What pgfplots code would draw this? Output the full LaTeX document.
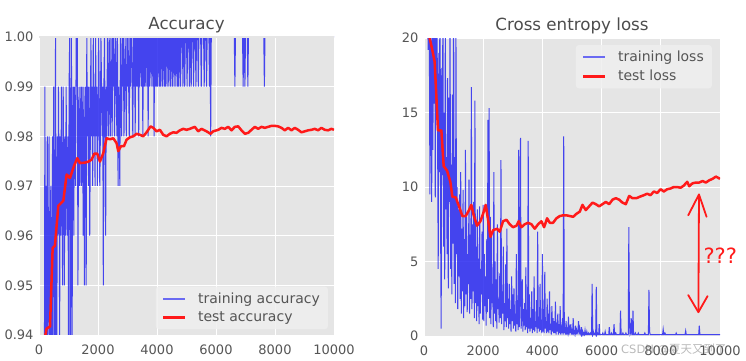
\documentclass[border=0pt]{standalone}
\usepackage{pgfplots}
\pgfplotsset{compat=1.18}
\usepackage{fontspec}
\setmainfont{DejaVu Sans}
\newfontfamily\cjk{Noto Sans CJK SC}
\definecolor{bg}{HTML}{E5E5E5}
\definecolor{tk}{HTML}{555555}
\definecolor{trblue}{HTML}{2828F0}
\definecolor{legblue}{HTML}{6A6AF2}
\definecolor{legbg}{HTML}{EFEFEF}
\definecolor{tred}{HTML}{FF1A1A}

\pgfplotsset{
 myax/.style={
  scale only axis,
  axis background/.style={fill=bg},
  axis line style={draw=none},
  major tick length=0pt,
  grid=major,
  major grid style={white, line width=0.9pt},
  tick label style={font=\fontsize{13}{13}\selectfont, color=tk},
  xticklabel style={yshift=-6pt},
  yticklabel style={xshift=-2pt},
  /pgf/number format/assume math mode=true,
  /pgf/number format/1000 sep={},
  xmin=0, xmax=10000,
  xtick={0,2000,4000,6000,8000,10000},
  scaled ticks=false,
  title style={font=\fontsize{16.7}{16.7}\selectfont, color=tk!90!black, at={(0.5,1)}, anchor=base, yshift=1.5pt},
  legend style={fill=legbg, fill opacity=0.85, text opacity=1, draw=none, rounded corners=3pt,
    font=\fontsize{14}{14}\selectfont, text=tk, row sep=3pt, inner xsep=6pt, inner ysep=4pt},
  legend cell align=left,
  clip mode=individual,
 },
 trainleg/.style={legend image code/.code={\path[draw=none, fill=none] (0pt,-1pt) rectangle (33pt,1pt); \draw[draw=legblue, line width=1.7pt, draw opacity=1] (0pt,0pt) -- (22pt,0pt);}},
 testleg/.style={legend image code/.code={\path[draw=none, fill=none] (0pt,-1pt) rectangle (33pt,1pt); \draw[draw=tred, line width=2.5pt] (0pt,0pt) -- (22pt,0pt);}},
}

\begin{document}
\begin{tikzpicture}
\useasboundingbox (0pt,0pt) rectangle (746pt,360pt);

% ---------------- Accuracy ----------------
\begin{axis}[myax,
  at={(39pt,25pt)}, anchor=south west, width=295pt, height=298pt,
  title={Accuracy},
  ymin=0.94, ymax=1.00,
  ytick={0.94,0.95,0.96,0.97,0.98,0.99,1.00},
  yticklabel style={/pgf/number format/.cd, fixed, fixed zerofill, precision=2},
  legend style={at={(0.98,0.019)}, anchor=south east},
]
\addplot[trblue, opacity=0.85, line width=1pt, trainleg] table[header=false, row sep=\\, x expr=\coordindex*20, y expr=\thisrowno{0}/100] {
10\\55\\72\\80\\84\\87\\89\\88\\91\\92\\
99\\93\\97\\92\\98\\94\\95\\98\\93\\96\\
97\\91\\95\\98\\94\\99\\96\\93\\100\\95\\
92\\98\\96\\99\\97\\94\\98\\96\\99\\97\\
95\\99\\97\\95\\98\\96\\99\\97\\96\\98\\
94\\99\\100\\93\\97\\100\\93\\98\\99\\96\\
99\\98\\97\\100\\99\\100\\95\\98\\99\\97\\
98\\99\\97\\99\\98\\96\\99\\95\\98\\99\\
95\\100\\98\\99\\97\\99\\96\\98\\100\\98\\
99\\97\\100\\98\\99\\97\\100\\98\\99\\97\\
98\\100\\99\\97\\98\\100\\99\\98\\99\\95\\
99\\100\\98\\96\\99\\98\\100\\99\\98\\100\\
99\\98\\100\\99\\98\\100\\99\\100\\98\\99\\
100\\99\\98\\100\\97\\99\\98\\97\\100\\99\\
98\\100\\99\\100\\98\\99\\100\\99\\98\\100\\
99\\100\\99\\98\\100\\99\\100\\100\\99\\98\\
100\\99\\100\\98\\100\\99\\100\\99\\100\\98\\
100\\99\\100\\100\\99\\100\\98\\100\\99\\100\\
99\\100\\100\\99\\100\\98\\100\\99\\100\\100\\
99\\100\\100\\99\\100\\98\\100\\99\\100\\99\\
100\\99\\100\\100\\99\\100\\99\\100\\100\\99\\
100\\100\\99\\100\\99\\100\\100\\99\\100\\100\\
99\\100\\100\\99\\100\\100\\99\\100\\100\\99\\
100\\100\\99\\100\\100\\99\\100\\99\\100\\100\\
99\\100\\100\\100\\99\\100\\100\\99\\100\\100\\
100\\99\\100\\100\\100\\99\\100\\100\\99\\100\\
100\\100\\99\\100\\100\\100\\99\\100\\100\\100\\
99\\100\\100\\100\\100\\99\\100\\100\\100\\100\\
99\\100\\100\\100\\99\\100\\100\\100\\100\\99\\
100\\98\\100\\100\\100\\100\\100\\100\\100\\100\\
100\\100\\100\\100\\100\\100\\100\\100\\100\\100\\
100\\100\\100\\100\\100\\100\\100\\100\\100\\100\\
100\\100\\100\\100\\100\\100\\100\\100\\100\\100\\
100\\100\\99\\100\\100\\100\\100\\100\\100\\100\\
100\\100\\100\\100\\100\\100\\99\\100\\100\\99\\
100\\100\\100\\100\\99\\100\\100\\100\\100\\100\\
100\\100\\100\\100\\100\\100\\100\\100\\100\\100\\
100\\100\\100\\100\\100\\100\\100\\100\\100\\100\\
100\\100\\99\\100\\100\\100\\100\\100\\100\\100\\
100\\100\\100\\100\\100\\100\\100\\100\\100\\100\\
100\\100\\100\\100\\100\\100\\100\\100\\100\\100\\
100\\100\\100\\100\\100\\100\\100\\100\\100\\100\\
100\\100\\100\\100\\100\\100\\100\\100\\100\\100\\
100\\100\\100\\100\\100\\100\\100\\100\\100\\100\\
100\\100\\100\\100\\100\\100\\100\\100\\100\\100\\
100\\100\\100\\100\\100\\100\\100\\100\\100\\100\\
100\\100\\100\\100\\100\\100\\100\\100\\100\\100\\
100\\100\\100\\100\\100\\100\\100\\100\\100\\100\\
100\\100\\100\\100\\100\\100\\100\\100\\100\\100\\
100\\100\\100\\100\\100\\100\\100\\100\\100\\100\\
100\\
};
\addlegendentry{training accuracy}
\addplot[tred, line width=2.5pt, line join=round, testleg] coordinates {
(200,0.9395)(260,0.9413)(373,0.9417)(463,0.9575)(540,0.958)(655,0.966)(824,0.967)
(937,0.9723)(1050,0.9716)(1185,0.974)(1298,0.9756)(1389,0.9746)(1558,0.9747)
(1671,0.9749)(1784,0.9753)(1874,0.9765)(1976,0.9765)(2066,0.9749)(2179,0.9766)
(2292,0.9796)(2405,0.9794)(2518,0.9796)(2631,0.9786)(2687,0.977)(2777,0.978)
(2879,0.978)(2969,0.9793)(3082,0.9798)(3195,0.980)(3308,0.9805)(3421,0.9803)
(3534,0.980)(3647,0.9808)(3782,0.982)(3872,0.9817)(3985,0.981)(4098,0.9813)
(4211,0.9803)(4324,0.980)(4437,0.9805)(4550,0.9808)(4663,0.9807)(4776,0.9812)
(4889,0.9815)(5002,0.9813)(5114,0.9815)(5284,0.9819)(5397,0.981)(5510,0.9815)
(5679,0.981)(5815,0.9805)(5905,0.981)(6074,0.9813)(6187,0.9817)(6300,0.9815)
(6413,0.9819)(6526,0.9812)(6639,0.9819)(6752,0.982)(6865,0.9812)(6978,0.9805)
(7091,0.9807)(7203,0.9813)(7316,0.9819)(7429,0.9815)(7542,0.9819)(7655,0.9817)
(7768,0.9819)(7881,0.9821)(7994,0.9821)(8106,0.982)(8219,0.9817)(8332,0.9812)
(8445,0.9817)(8558,0.9812)(8671,0.9817)(8784,0.9813)(8897,0.9808)(9010,0.981)
(9123,0.9812)(9235,0.9813)(9348,0.9815)(9461,0.9812)(9574,0.9817)(9687,0.9813)
(9800,0.9812)(9913,0.9815)(10000,0.9813)
};
\addlegendentry{test accuracy}
% the curve at the top limit is hidden by the axis edge, as in the reference
\draw[draw=bg, line width=1.3pt] (rel axis cs:0,1) -- (rel axis cs:1,1);
\end{axis}

% ---------------- Cross entropy loss ----------------
\begin{axis}[myax,
  at={(424pt,24pt)}, anchor=south west, width=296pt, height=298pt,
  title={Cross entropy loss},
  ymin=0, ymax=20,
  ytick={0,5,10,15,20},
  legend style={at={(0.973,0.977)}, anchor=north east},
]
\addplot[trblue, opacity=0.85, line width=1pt, trainleg] table[header=false, row sep=\\, x expr=\coordindex*20, y index=0] {
250\\90\\45\\32\\27\\24\\22\\19.2\\23\\20.5\\
9.5\\21\\18\\9.0\\25\\12.5\\22\\15.6\\24\\9.3\\
20.5\\16\\22\\13\\4.5\\19\\11\\26\\7.5\\0.5\\
18\\10.8\\24\\6.0\\15\\3.8\\21\\8.5\\12\\5.5\\
17.3\\3.2\\16\\9\\22\\4.5\\11.5\\2.8\\16.2\\6.2\\
24\\3.5\\12\\2.2\\20\\5.5\\10\\1.8\\8.5\\4.0\\
9.5\\2.5\\11\\1.5\\7.2\\3.0\\9.8\\1.2\\6.5\\2.0\\
12.5\\2.8\\8.0\\1.6\\5.5\\3.5\\10.5\\1.5\\6.8\\2.5\\
16.7\\1.8\\7.5\\3.0\\9.0\\1.2\\15.8\\2.2\\6.0\\1.0\\
8.5\\2.0\\5.2\\0.8\\8.7\\1.5\\4.5\\2.8\\7.0\\1.1\\
8.8\\1.0\\5.5\\2.0\\4.0\\0.7\\6.5\\1.6\\14.5\\2.5\\
15.3\\1.2\\8.0\\0.8\\6.8\\2.2\\3.5\\0.6\\11.0\\1.5\\
5.0\\1.0\\3.8\\0.5\\7.5\\1.8\\2.5\\0.9\\4.2\\1.2\\
11.8\\0.8\\3.0\\1.5\\6.0\\0.4\\2.2\\1.0\\4.8\\0.6\\
7.2\\1.2\\2.5\\0.5\\3.5\\0.8\\1.8\\0.3\\4.0\\1.0\\
2.8\\0.5\\3.2\\0.7\\1.5\\0.3\\5.5\\0.8\\2.0\\0.4\\
12.5\\0.6\\2.5\\13.3\\0.5\\1.2\\3.8\\0.3\\1.8\\0.7\\
2.2\\0.4\\4.6\\0.6\\1.5\\0.2\\13.1\\0.5\\2.8\\0.3\\
1.2\\0.5\\3.0\\0.2\\1.8\\0.4\\4.0\\0.3\\1.0\\0.6\\
2.4\\0.2\\7.0\\0.5\\1.3\\0.3\\3.5\\0.4\\0.8\\0.2\\
5.5\\0.3\\1.8\\0.2\\4.3\\0.5\\1.0\\0.2\\2.5\\0.3\\
1.5\\0.2\\3.0\\0.4\\0.8\\0.1\\2.0\\0.3\\1.2\\0.2\\
1.0\\0.2\\2.3\\0.1\\0.6\\0.3\\1.5\\0.1\\0.8\\0.2\\
2.0\\0.1\\0.5\\0.2\\1.2\\0.1\\13.4\\0.2\\0.6\\0.1\\
1.0\\0.1\\0.4\\0.2\\1.3\\0.1\\0.5\\0.2\\0.8\\0.1\\
0.5\\0.1\\1.2\\0.2\\0.3\\0.1\\0.7\\0.1\\0.4\\0.2\\
0.3\\1.0\\0.1\\0.5\\0.2\\0.1\\0.6\\0.1\\0.3\\0.1\\
0.2\\0.1\\0.4\\0.1\\0.1\\0.3\\0.1\\0.1\\0.2\\0.1\\
0.1\\0.2\\0.1\\0.1\\3.5\\0.1\\0.3\\0.1\\0.1\\0.2\\
0.1\\3.3\\0.1\\0.2\\0.1\\0.1\\0.8\\0.1\\0.1\\0.1\\
0.1\\0.1\\0.2\\0.1\\0.1\\0.1\\0.3\\0.1\\0.1\\0.1\\
0.1\\0.1\\0.1\\0.6\\0.1\\0.1\\0.1\\0.2\\0.1\\0.1\\
0.1\\0.8\\0.1\\0.1\\0.2\\0.1\\0.1\\0.1\\0.1\\0.1\\
0.1\\0.1\\1.7\\0.1\\0.1\\0.1\\0.2\\0.1\\0.1\\0.1\\
0.1\\0.2\\0.1\\0.1\\0.1\\0.1\\7.3\\1.0\\0.1\\0.2\\
1.2\\0.1\\0.1\\1.7\\0.1\\0.1\\0.1\\0.2\\0.1\\0.1\\
0.1\\0.1\\0.2\\0.1\\0.1\\0.1\\0.1\\0.1\\0.1\\0.1\\
0.1\\0.1\\0.1\\0.2\\0.1\\0.1\\0.1\\0.1\\0.1\\0.1\\
3.1\\0.3\\0.1\\0.1\\0.1\\0.1\\0.1\\0.1\\0.1\\0.1\\
0.1\\0.1\\0.1\\0.1\\0.1\\0.1\\0.1\\0.1\\0.1\\0.1\\
0.1\\0.1\\0.1\\0.1\\0.45\\0.1\\0.1\\0.2\\0.1\\0.1\\
0.1\\0.1\\0.1\\0.1\\0.1\\0.1\\0.1\\0.1\\0.1\\0.1\\
0.1\\0.1\\0.1\\0.1\\0.1\\0.1\\0.2\\0.1\\0.1\\0.1\\
0.1\\0.1\\0.1\\0.1\\0.1\\0.1\\0.1\\0.1\\0.1\\0.1\\
0.1\\0.1\\0.35\\0.1\\0.1\\0.1\\0.1\\0.1\\0.1\\0.1\\
0.1\\0.1\\0.1\\0.1\\0.1\\0.1\\0.1\\0.1\\0.1\\0.1\\
0.1\\0.1\\0.1\\0.1\\0.1\\0.7\\0.1\\0.1\\0.1\\0.1\\
0.1\\0.1\\0.1\\0.1\\0.1\\0.1\\0.1\\0.1\\0.1\\0.1\\
0.1\\0.1\\0.1\\0.1\\0.1\\0.1\\0.1\\0.1\\0.1\\0.1\\
0.1\\0.1\\0.1\\0.1\\0.1\\0.1\\0.1\\0.1\\0.1\\0.1\\
0.1\\
};
\addlegendentry{training loss}
\addplot[tred, line width=2.5pt, line join=round, testleg] coordinates {
(190,20)(280,19.2)(360,18.4)(473,13.8)(586,13.8)(665,11.4)(778,11.1)(890,10.35)
(958,9.35)(1071,9.3)(1183,8.7)(1296,8.05)(1409,8.05)(1521,8.45)(1600,8.8)
(1679,8.1)(1792,7.4)(1905,7.7)(1995,8.2)(2085,8.8)(2164,7.8)(2243,6.65)
(2333,7.1)(2468,7.2)(2558,7.0)(2671,7.7)(2784,7.8)(2896,7.5)(3009,7.3)
(3122,7.4)(3201,7.7)(3291,7.3)(3404,7.5)(3516,7.6)(3629,7.5)(3742,7.2)
(3854,7.5)(3967,7.7)(4057,7.3)(4159,7.9)(4249,7.6)(4361,7.6)(4474,7.9)
(4587,8.05)(4700,8.1)(4812,8.1)(4925,8.05)(5038,8.0)(5150,8.2)(5263,8.35)
(5353,8.8)(5466,8.45)(5579,8.7)(5691,8.95)(5804,8.85)(5917,8.7)(6030,8.85)
(6142,9.0)(6255,8.85)(6368,9.15)(6480,9.25)(6593,9.15)(6706,8.95)(6818,8.85)
(6931,9.4)(7044,9.25)(7179,9.25)(7292,9.35)(7427,9.45)(7540,9.55)(7652,9.45)
(7765,9.7)(7878,9.6)(7991,9.85)(8103,9.7)(8216,9.85)(8329,9.9)(8441,10.0)
(8554,10.0)(8667,9.95)(8779,10.1)(8892,10.35)(8960,10.05)(9072,10.25)
(9185,10.3)(9298,10.3)(9411,10.4)(9523,10.3)(9636,10.45)(9749,10.55)
(9861,10.7)(10000,10.55)
};
\addlegendentry{test loss}
% hand-drawn annotation
\draw[tred, line width=1.8pt, line cap=round, line join=round]
  (axis cs:9290,9.5) -- (axis cs:9270,1.6);
\draw[tred, line width=1.8pt, line cap=round, line join=round]
  (axis cs:8926,8.1) -- (axis cs:9290,9.5) -- (axis cs:9546,8.0);
\draw[tred, line width=1.8pt, line cap=round, line join=round]
  (axis cs:8926,2.75) -- (axis cs:9270,1.6) -- (axis cs:9580,2.68);
\node[tred, font=\fontsize{21}{21}\selectfont] at (axis cs:10010,5.4) {???};
\end{axis}

\node[anchor=base west, text=gray, opacity=0.55, font=\fontsize{11.5}{11.5}\selectfont, inner sep=0pt] at (621pt,7pt) {CSDN @{\cjk 夏天又到了}};
\end{tikzpicture}
\end{document}
